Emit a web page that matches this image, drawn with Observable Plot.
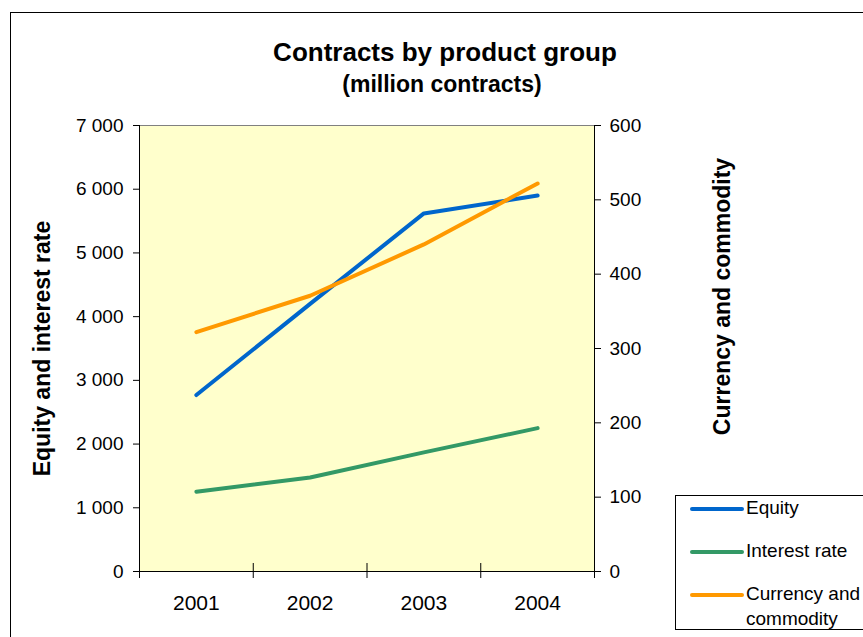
<!DOCTYPE html>
<html>
<head>
<meta charset="utf-8">
<script src="https://cdn.jsdelivr.net/npm/d3@7"></script>
<script src="https://cdn.jsdelivr.net/npm/@observablehq/plot@0.6"></script>
<style>
  html, body { margin: 0; padding: 0; background: #fff; overflow: hidden; }
  #wrap { position: relative; width: 863px; height: 637px; font-family: "Liberation Sans", Arial, sans-serif; }
  #border { position: absolute; left: 10px; top: 12px; width: 900px; height: 700px; border: 1px solid #000; box-sizing: border-box; }
  #legend { position: absolute; left: 675px; top: 495px; width: 220px; height: 135px; border: 1px solid #000; background: #fff; box-sizing: border-box; }
  #chart { position: absolute; left: 0; top: 0; }
</style>
</head>
<body>
<div id="wrap">
  <div id="border"></div>
  <div id="chart"></div>
  <div id="legend"></div>
</div>
<script>
const years = [2001, 2002, 2003, 2004];
const equity = [2770, 4200, 5620, 5900];
const interestRate = [1250, 1475, 1870, 2250];
const currencyCommodity = [322, 371, 440, 522];

const seriesNames = ["Equity", "Interest rate", "Currency and commodity"];
const seriesColors = ["#0066CC", "#339966", "#FF9900"];

const leftTicks = [0, 1000, 2000, 3000, 4000, 5000, 6000, 7000];
const rightTicks = [0, 100, 200, 300, 400, 500, 600];
const leftMax = 7000, rightMax = 600;
const k = leftMax / rightMax;

const fmt = d3.formatLocale({decimal: ".", thousands: " ", grouping: [3], currency: ["", ""]}).format(",");

const rows = [];
years.forEach((y, i) => {
  rows.push({year: y, value: equity[i], series: seriesNames[0]});
  rows.push({year: y, value: interestRate[i], series: seriesNames[1]});
  rows.push({year: y, value: currencyCommodity[i] * k, series: seriesNames[2]});
});

const xMin = years[0] - 0.5, xMax = years[years.length - 1] + 0.5;
const bounds = d3.range(xMin, xMax + 0.01, 1);
const font = "'Liberation Sans', Arial, sans-serif";

const chart = Plot.plot({
  width: 863,
  height: 637,
  marginLeft: 139,
  marginRight: 269,
  marginTop: 125,
  marginBottom: 66,
  style: {fontFamily: font, background: "transparent", color: "#000"},
  x: {domain: [xMin, xMax]},
  y: {domain: [0, leftMax]},
  color: {domain: seriesNames, range: seriesColors},
  marks: [
    Plot.frame({fill: "#FFFFCC", stroke: "#808080"}),
    Plot.ruleY([0], {stroke: "#000"}),
    Plot.ruleX([xMin, xMax], {stroke: "#000"}),
    Plot.axisY({ticks: leftTicks, tickFormat: fmt, tickSize: 6, tickPadding: 10, fontSize: 19, label: null}),
    Plot.axisY({anchor: "right", ticks: rightTicks.map(v => v * k), tickFormat: d => fmt(Math.round(d / k)), tickSize: 6, tickPadding: 9, fontSize: 19, label: null}),
    Plot.axisX({ticks: bounds, tickSize: 7, tickFormat: () => "", label: null}),
    Plot.axisX({ticks: bounds, tickSize: -8, tickFormat: () => "", label: null}),
    Plot.axisX({ticks: years, tickSize: 0, tickPadding: 24, tickFormat: d => String(d), fontSize: 21, label: null}),
    Plot.line(rows, {x: "year", y: "value", z: "series", stroke: "series", strokeWidth: 4, strokeLinecap: "round", strokeLinejoin: "miter"}),
    Plot.text(["Contracts by product group"], {frameAnchor: "top", lineAnchor: "middle", dx: 78, dy: -73, fontSize: 26, fontWeight: "bold"}),
    Plot.text(["(million contracts)"], {frameAnchor: "top", lineAnchor: "middle", dx: 75, dy: -41, fontSize: 23, fontWeight: "bold"}),
    Plot.text(["Equity and interest rate"], {frameAnchor: "left", textAnchor: "middle", lineAnchor: "middle", dx: -97, dy: 0, rotate: -90, fontSize: 23, fontWeight: "bold"}),
    Plot.text(["Currency and commodity"], {frameAnchor: "right", textAnchor: "middle", lineAnchor: "middle", dx: 128, dy: -52, rotate: -90, fontSize: 23, fontWeight: "bold"})
  ]
});
document.getElementById("chart").appendChild(chart);

// legend
const lg = d3.select("#legend").append("svg").attr("width", 220).attr("height", 135);
const legendLabels = [["Equity"], ["Interest rate"], ["Currency and", "commodity"]];
const legendY = [13, 56, 99];
seriesNames.forEach((name, i) => {
  lg.append("line").attr("x1", 16).attr("x2", 66).attr("y1", legendY[i]).attr("y2", legendY[i])
    .attr("stroke", seriesColors[i]).attr("stroke-width", 4).attr("stroke-linecap", "round");
  const t = lg.append("text").attr("x", 70).attr("y", legendY[i]).attr("font-family", font).attr("font-size", 19)
    .attr("dominant-baseline", "middle");
  legendLabels[i].forEach((s, j) => {
    t.append("tspan").attr("x", 70).attr("dy", j === 0 ? 0 : 25).text(s);
  });
});
</script>
</body>
</html>
